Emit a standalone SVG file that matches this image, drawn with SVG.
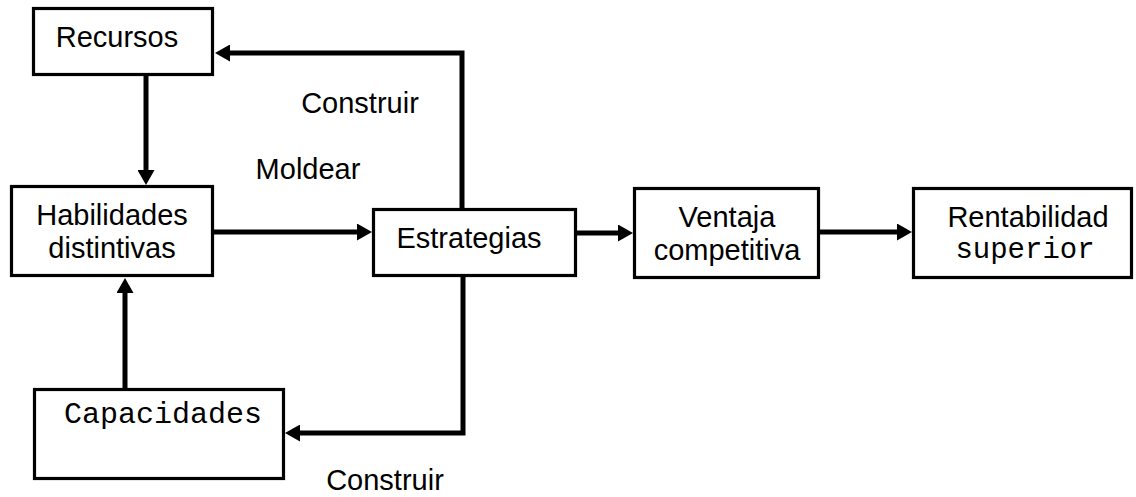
<svg xmlns="http://www.w3.org/2000/svg" width="1136" height="497" viewBox="0 0 1136 497">
<style>
.box{fill:#fff;stroke:#000;stroke-width:3.2}
.t{font-family:"Liberation Sans",Arial,sans-serif;font-size:29px;fill:#000;text-anchor:middle}
.m{font-family:"Liberation Mono","Courier New",monospace;font-size:29px;fill:#000;text-anchor:middle}
.c{fill:none;stroke:#000;stroke-width:5}
</style>
<defs>
<marker id="ah" markerUnits="userSpaceOnUse" viewBox="0 0 15 17" markerWidth="15" markerHeight="17" refX="2" refY="8.5" orient="auto">
<path d="M0,0 L15,8.5 L0,17 z" fill="#000"/>
</marker>
</defs>
<g id="connectors">
<path class="c" d="M146,76 V172" marker-end="url(#ah)"/>
<path class="c" d="M462,209 V53 H228" marker-end="url(#ah)"/>
<path class="c" d="M214,232 H359" marker-end="url(#ah)"/>
<path class="c" d="M577,233 H620" marker-end="url(#ah)"/>
<path class="c" d="M820,232 H899" marker-end="url(#ah)"/>
<path class="c" d="M125,388 V291" marker-end="url(#ah)"/>
<path class="c" d="M463,277 V433 H298" marker-end="url(#ah)"/>
</g>
<g id="recursos">
<rect class="box" x="33.5" y="8.5" width="179" height="66"/>
<text class="t" x="117" y="47">Recursos</text>
</g>
<g id="habilidades">
<rect class="box" x="11.5" y="186.5" width="201" height="89"/>
<text class="t" x="112" y="225">Habilidades</text>
<text class="t" x="112" y="258">distintivas</text>
</g>
<g id="estrategias">
<rect class="box" x="373.5" y="209.5" width="202" height="66"/>
<text class="t" x="469" y="248">Estrategias</text>
</g>
<g id="ventaja">
<rect class="box" x="634.5" y="188.5" width="184" height="89"/>
<text class="t" x="727" y="227">Ventaja</text>
<text class="t" x="727" y="260">competitiva</text>
</g>
<g id="rentabilidad">
<rect class="box" x="913.5" y="188.5" width="218" height="89"/>
<text class="t" x="1028" y="227">Rentabilidad</text>
<text class="m" x="1025" y="258">superior</text>
</g>
<g id="capacidades">
<rect class="box" x="34.5" y="389.5" width="249" height="89"/>
<text class="m" x="163" y="423" style="font-size:30px">Capacidades</text>
</g>
<g id="labels">
<text class="t" x="360" y="113">Construir</text>
<text class="t" x="308" y="179">Moldear</text>
<text class="t" x="385" y="490">Construir</text>
</g>
</svg>
